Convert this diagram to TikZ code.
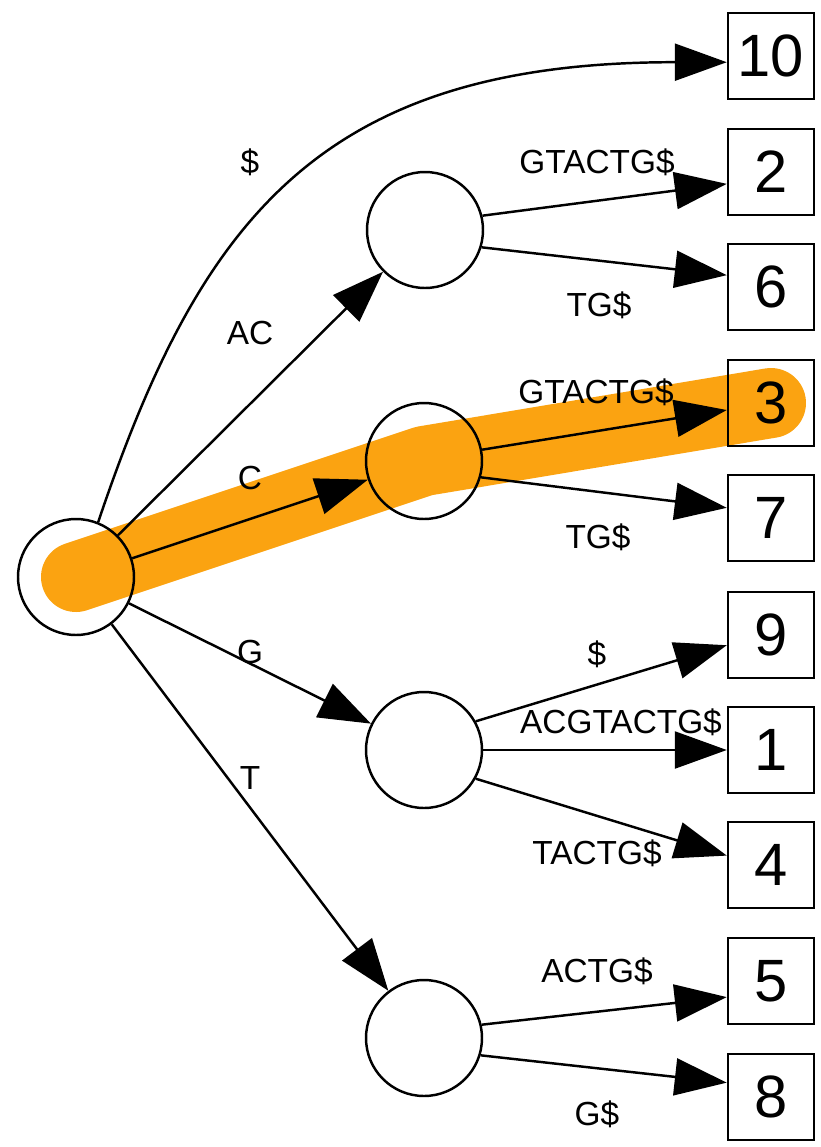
\documentclass[tikz,border=0pt]{standalone}
\usepackage{fontspec}
\setmainfont{Liberation Sans}
\usetikzlibrary{arrows.meta}
\definecolor{hl}{RGB}{251,163,17}
\pgfdeclarelayer{background}
\pgfsetlayers{background,main}
\begin{document}
\begin{tikzpicture}[x=0.02cm,y=-0.02cm,
  inner/.style={circle,draw,line width=1.4pt,minimum size=2.32cm,inner sep=0pt},
  leaf/.style={rectangle,draw,line width=1.4pt,minimum size=1.72cm,inner sep=0pt,font=\fontsize{34}{36}\selectfont},
  lbl/.style={font=\fontsize{19}{21}\selectfont,inner sep=0pt},
  edge/.style={line width=1.4pt,-{Triangle[length=1.04cm,width=0.74cm]}},
  hlpath/.style={draw=hl,line width=1.4cm,line cap=round,line join=round}]
\useasboundingbox (0,0) rectangle (821,1147);

% internal nodes
\node[inner] (root) at (76,577) {};
\node[inner] (n1) at (425,230) {};
\node[inner] (n2) at (424,461) {};
\node[inner] (n3) at (424,750) {};
\node[inner] (n4) at (424,1038) {};

% leaves
\node[leaf] (b10) at (771,56) {10};
\node[leaf] (b2) at (771,172) {2};
\node[leaf] (b6) at (771,287) {6};
\node[leaf] (b3) at (771,403) {3};
\node[leaf] (b7) at (771,518) {7};
\node[leaf] (b9) at (771,635) {9};
\node[leaf] (b1) at (771,750) {1};
\node[leaf] (b4) at (771,865) {4};
\node[leaf] (b5) at (771,981) {5};
\node[leaf] (b8) at (771,1097) {8};

% highlighted path
\begin{pgfonlayer}{background}
\draw[hlpath] (root.center) -- (n2.center) -- (b3.center);
\end{pgfonlayer}

% edges
\draw[edge] (root.68) .. controls (200,220) and (320,62) .. (b10.188);
\draw[edge] (root) -- (n1);
\draw[edge] (root) -- (n2);
\draw[edge] (root) -- (n3);
\draw[edge] (root) -- (n4);
\draw[edge] (n1.14) -- (b2.195);
\draw[edge] (n1.-17) -- (b6.165);
\draw[edge] (n2.11) -- (b3.189);
\draw[edge] (n2.-16) -- (b7.167);
\draw[edge] (n3.29) -- (b9.193);
\draw[edge] (n3) -- (b1);
\draw[edge] (n3.-29) -- (b4.168);
\draw[edge] (n4.13) -- (b5.200);
\draw[edge] (n4.-17) -- (b8.162);

% labels
\node[lbl] (l10) at (250,162) {\$};
\node[lbl] (lac) at (250,333) {AC};
\node[lbl] (lc) at (250,478) {C};
\node[lbl] (lg) at (250,652) {G};
\node[lbl] (lt) at (250,778) {T};
\node[lbl] (l2) at (597,162) {GTACTG\$};
\node[lbl] (l6) at (599,305) {TG\$};
\node[lbl] (l3) at (596,392) {GTACTG\$};
\node[lbl] (l7) at (598,537) {TG\$};
\node[lbl] (l9) at (597,654) {\$};
\node[lbl] (l1) at (621,722) {ACGTACTG\$};
\node[lbl] (l4) at (597,853) {TACTG\$};
\node[lbl] (l5) at (597,971) {ACTG\$};
\node[lbl] (l8) at (597,1114) {G\$};
\end{tikzpicture}
\end{document}
